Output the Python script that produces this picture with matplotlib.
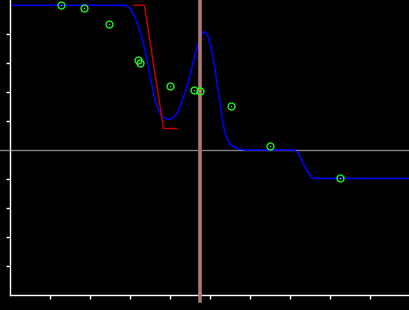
import numpy as np
import matplotlib
matplotlib.use("Agg")
import matplotlib.pyplot as plt

# smooth (blue) curve
curve_x = [0.0, 2.875, 3.0, 3.125, 3.21, 3.29, 3.375, 3.46, 3.54, 3.625, 3.71,
           3.79, 3.925, 4.05, 4.15, 4.25, 4.35, 4.42, 4.475, 4.55, 4.625, 4.71,
           4.8, 4.875, 4.96, 5.04, 5.125, 5.18, 5.25, 5.29, 5.35, 5.42, 5.5,
           5.625, 5.75, 5.9, 7.1, 7.2, 7.25, 7.375, 7.46, 7.58, 10.0]
curve_y = [4.99, 4.99, 4.89, 4.60, 4.25, 3.91, 3.45, 2.87, 2.30, 1.72, 1.38,
           1.15, 1.06, 1.08, 1.21, 1.49, 1.88, 2.18, 2.41, 2.86, 3.30, 3.69,
           4.02, 4.08, 3.91, 3.45, 2.82, 2.24, 1.67, 1.21, 0.75, 0.40, 0.20,
           0.08, 0.03, 0.0, 0.0, -0.1, -0.23, -0.58, -0.80, -0.98, -0.98]

# piecewise (red) line
step_x = [3.1, 3.36, 3.84, 4.17]
step_y = [4.99, 4.99, 0.74, 0.74]

# sample points (green circles)
pts_x = [1.28, 1.86, 2.48, 3.21, 3.26, 4.01, 4.61, 4.76, 5.53, 6.51, 8.26]
pts_y = [4.99, 4.89, 4.33, 3.09, 2.99, 2.20, 2.06, 2.03, 1.51, 0.13, -0.95]

marker_x = 4.75

fig = plt.figure(figsize=(4.1, 3.1), dpi=100, facecolor="black")
ax = fig.add_axes([10 / 410, 15 / 310, 400 / 410, 295 / 310])
ax.set_facecolor("black")

ax.set_xlim(0, 10)
ax.set_ylim(-5, 150 / 29)

ax.plot([-0.25, 10], [0, 0], color="#808080", lw=1, clip_on=False, zorder=1)
ax.plot(curve_x, curve_y, color="#0000ff", lw=1.1, zorder=2)
ax.plot(step_x, step_y, color="#c00000", lw=1.1, zorder=2)
ax.plot([marker_x, marker_x], [-5.2, 150 / 29], color="#b07878", lw=2.6,
        clip_on=False, zorder=3)
ax.plot(pts_x, pts_y, "o", mfc="none", mec="#22ee22", ms=5, mew=1, zorder=4)
ax.plot(pts_x, pts_y, "o", color="#22ee22", ms=1, mew=0, zorder=4)

for side in ["top", "right"]:
    ax.spines[side].set_visible(False)
for side in ["left", "bottom"]:
    ax.spines[side].set_color("white")
    ax.spines[side].set_linewidth(1)

ax.set_xticks(np.arange(1, 10))
ax.set_yticks([-4, -3, -2, -1, 1, 2, 3, 4])
ax.tick_params(colors="white", length=3, width=1, labelleft=False, labelbottom=False)

fig.savefig("out.png", dpi=100, facecolor="black")
